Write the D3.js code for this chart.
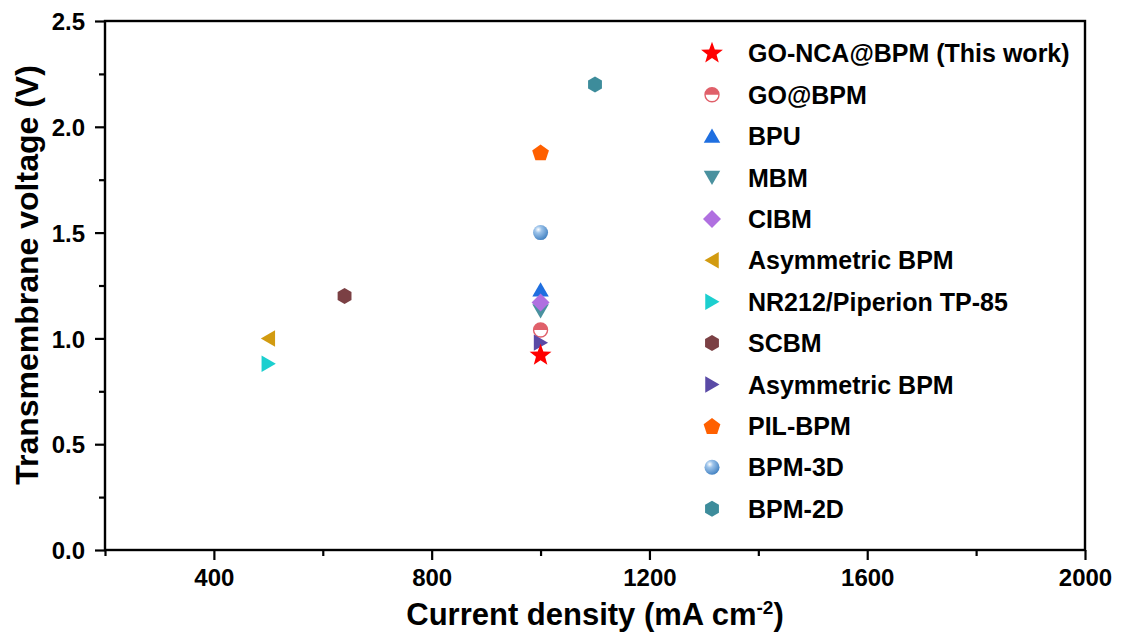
<!DOCTYPE html>
<html>
<head>
<meta charset="utf-8">
<script src="https://cdn.jsdelivr.net/npm/d3@7"></script>
<style>
  html, body { margin: 0; padding: 0; background: #ffffff; }
  svg { display: block; }
  text { font-family: "Liberation Sans", Arial, sans-serif; font-weight: bold; fill: #000; }
</style>
</head>
<body>
<svg id="chart" width="1123" height="639"></svg>
<script>
// ---- data ----
const names = ["GO-NCA@BPM (This work)", "GO@BPM", "BPU", "MBM", "CIBM", "Asymmetric BPM",
               "NR212/Piperion TP-85", "SCBM", "Asymmetric BPM", "PIL-BPM", "BPM-3D", "BPM-2D"];
const currentDensity = [1000, 1000, 1000, 1000, 1000, 500, 500, 640, 1000, 1000, 1000, 1100];
const voltage = [0.92, 1.04, 1.23, 1.13, 1.17, 1.00, 0.88, 1.20, 0.98, 1.88, 1.50, 2.20];
const shapes = ["star", "halfcircle", "triUp", "triDown", "diamond", "triLeft",
                "triRight", "hexagon", "triRight", "pentagon", "sphere", "hexagon"];
const colors = ["#ff0000", "#e0606a", "#1f6fe0", "#4a919f", "#b070e0", "#d29b10",
                "#1ccfcf", "#7b4044", "#5a4aa6", "#ff6000", "#5b9bd5", "#3d8c9b"];
const xTicks = [400, 800, 1200, 1600, 2000];
const yTicks = [0.0, 0.5, 1.0, 1.5, 2.0, 2.5];

// ---- layout ----
const svg = d3.select("#chart");
const L = 105, R = 1085, T = 21, B = 550;
const x = d3.scaleLinear().domain([200, 2000]).range([L, R]);
const y = d3.scaleLinear().domain([0, 2.5]).range([B, T]);

const defs = svg.append("defs");
const grad = defs.append("radialGradient").attr("id", "sphereGrad")
  .attr("cx", "0.35").attr("cy", "0.3").attr("r", "0.75");
grad.append("stop").attr("offset", "0").attr("stop-color", "#ffffff");
grad.append("stop").attr("offset", "0.3").attr("stop-color", "#9cc3ea");
grad.append("stop").attr("offset", "1").attr("stop-color", "#3f7fc0");

function polygon(n, r, rot) {
  const pts = [];
  for (let i = 0; i < n; i++) {
    const a = rot + i * 2 * Math.PI / n;
    pts.push([r * Math.cos(a), r * Math.sin(a)]);
  }
  return "M" + pts.map(p => p[0].toFixed(2) + "," + p[1].toFixed(2)).join("L") + "Z";
}
function star(ro, ri) {
  const pts = [];
  for (let i = 0; i < 10; i++) {
    const r = i % 2 === 0 ? ro : ri;
    const a = -Math.PI / 2 + i * Math.PI / 5;
    pts.push([r * Math.cos(a), r * Math.sin(a)]);
  }
  return "M" + pts.map(p => p[0].toFixed(2) + "," + p[1].toFixed(2)).join("L") + "Z";
}

function drawMarker(g, shape, color) {
  if (shape === "star") {
    g.append("path").attr("d", star(11.5, 4.8)).attr("fill", color);
  } else if (shape === "halfcircle") {
    const r = 7;
    g.append("circle").attr("r", r).attr("fill", "#fff").attr("stroke", color).attr("stroke-width", 1.4);
    g.append("path").attr("d", `M${-r},0A${r},${r} 0 0 1 ${r},0Z`).attr("fill", color);
  } else if (shape === "triUp") {
    g.append("path").attr("d", polygon(3, 9.5, -Math.PI / 2)).attr("fill", color).attr("transform", "translate(0,2)");
  } else if (shape === "triDown") {
    g.append("path").attr("d", polygon(3, 9.5, Math.PI / 2)).attr("fill", color).attr("transform", "translate(0,-2)");
  } else if (shape === "triLeft") {
    g.append("path").attr("d", polygon(3, 9.5, Math.PI)).attr("fill", color).attr("transform", "translate(2,0)");
  } else if (shape === "triRight") {
    g.append("path").attr("d", polygon(3, 9.5, 0)).attr("fill", color).attr("transform", "translate(-2,0)");
  } else if (shape === "diamond") {
    g.append("path").attr("d", polygon(4, 9, 0)).attr("fill", color);
  } else if (shape === "hexagon") {
    g.append("path").attr("d", polygon(6, 8, -Math.PI / 2)).attr("fill", color);
  } else if (shape === "pentagon") {
    g.append("path").attr("d", polygon(5, 8.8, -Math.PI / 2)).attr("fill", color).attr("transform", "translate(0,1)");
  } else if (shape === "sphere") {
    g.append("circle").attr("r", 7.5).attr("fill", "url(#sphereGrad)");
  }
}

// ---- axes ----
const xAxis = svg.append("g").attr("transform", `translate(0,${B})`)
  .call(d3.axisBottom(x).tickValues(xTicks).tickSize(10).tickPadding(9).tickFormat(d3.format("d")));
const xMinor = svg.append("g").attr("transform", `translate(0,${B})`)
  .call(d3.axisBottom(x).tickValues([200, 600, 1000, 1400, 1800]).tickSize(6).tickFormat(""));
const yAxis = svg.append("g").attr("transform", `translate(${L},0)`)
  .call(d3.axisLeft(y).tickValues(yTicks).tickSize(10).tickPadding(10).tickFormat(d3.format(".1f")));
const yMinor = svg.append("g").attr("transform", `translate(${L},0)`)
  .call(d3.axisLeft(y).tickValues([0.25, 0.75, 1.25, 1.75, 2.25]).tickSize(6).tickFormat(""));

[xAxis, xMinor, yAxis, yMinor].forEach(a => {
  a.select(".domain").remove();
  a.selectAll("line").attr("stroke", "#000").attr("stroke-width", 2.2);
});
xAxis.selectAll("text").attr("font-size", 24).attr("font-family", "Liberation Sans, Arial, sans-serif").attr("font-weight", "bold");
yAxis.selectAll("text").attr("font-size", 24).attr("font-family", "Liberation Sans, Arial, sans-serif").attr("font-weight", "bold").attr("dy", "0.36em");

// frame
svg.append("rect").attr("x", L).attr("y", T).attr("width", R - L).attr("height", B - T)
  .attr("fill", "none").attr("stroke", "#000").attr("stroke-width", 2.4);

// ---- axis titles ----
svg.append("text").attr("x", 595).attr("y", 625).attr("text-anchor", "middle").attr("font-size", 31)
  .html('Current density (mA cm<tspan dy="-11" font-size="19">-2</tspan><tspan dy="11">)</tspan>');
svg.append("text").attr("transform", "translate(38,275) rotate(-90)").attr("text-anchor", "middle")
  .attr("font-size", 32).text("Transmembrane voltage (V)");

// ---- points ----
const pts = svg.append("g");
names.forEach((n, i) => {
  const g = pts.append("g").attr("transform", `translate(${x(currentDensity[i])},${y(voltage[i])})`);
  drawMarker(g, shapes[i], colors[i]);
});
pts.select("g").raise();

// ---- legend ----
const leg = svg.append("g");
names.forEach((n, i) => {
  const cy = 53.3 + i * 41.4;
  const g = leg.append("g").attr("transform", `translate(712,${cy})`);
  drawMarker(g, shapes[i], colors[i]);
  leg.append("text").attr("x", 748).attr("y", cy).attr("dy", "0.36em").attr("font-size", 25).text(n);
});
</script>
</body>
</html>
